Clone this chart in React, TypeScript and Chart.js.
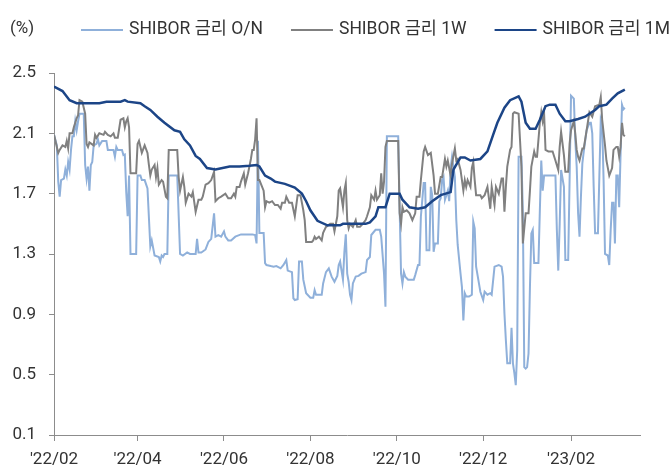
import React, { useEffect, useRef } from "react";
import { Chart, registerables } from "chart.js";

Chart.register(...registerables);

// ---- data ----
const seriesNames = ["SHIBOR 금리 O/N", "SHIBOR 금리 1W", "SHIBOR 금리 1M"];
const seriesColors = ["#8fb0da", "#808080", "#1c4587"];

// x values = days since 2022-02-01
const xTickDays = [0, 59, 120, 181, 242, 303, 365];
const xTickLabels = ["'22/02", "'22/04", "'22/06", "'22/08", "'22/10", "'22/12", "'23/02"];
const xMaxDay = 413.7;
const yTicks = [0.1, 0.5, 0.9, 1.3, 1.7, 2.1, 2.5];
const unitLabel = "(%)";

const onDays = [0,2,3,4,5,7,8,9,10,11,12,13,14,15,16,17,18,21,22,23,24,25,26,27,28,30,31,32,34,37,38,42,43,44,45,48,49,50,51,52,53,54,58,59,61,62,64,66,68,69,71,74,75,76,77,78,80,81,87,89,91,94,96,100,101,102,104,107,109,111,113,114,116,118,120,121,123,125,128,132,140,142,143,144,145,148,149,150,153,155,157,160,162,164,165,168,169,170,172,173,175,176,178,181,183,184,185,189,190,192,194,196,198,200,201,202,203,204,205,206,207,208,209,210,211,213,215,217,220,221,223,224,227,230,231,233,234,235,243,244,245,246,247,248,250,254,255,257,258,259,261,262,263,265,266,267,268,269,271,272,273,274,275,276,278,279,280,281,283,284,285,287,288,289,290,291,293,295,296,297,298,300,301,303,304,306,308,309,311,314,316,317,318,319,320,322,323,324,325,326,327,328,330,331,332,333,334,335,336,337,338,339,342,343,344,345,346,354,355,356,357,358,360,361,363,364,365,367,368,369,370,371,372,373,374,376,378,379,380,381,382,384,386,387,388,389,391,392,393,394,395,396,397,398,399,400,401,402,403];
const onVals = [2.09,2.02,1.78,1.68,1.79,1.80,1.86,1.82,1.91,1.86,1.99,2.08,2.08,2.18,2.12,2.18,2.23,2.23,1.89,1.80,1.88,1.72,1.89,1.91,2.02,2.03,2.06,2.02,2.05,2.05,1.99,1.99,1.945,2.01,1.99,1.99,1.956,1.96,1.71,1.55,1.82,1.30,1.30,1.82,1.82,1.79,1.79,1.735,1.35,1.39,1.29,1.28,1.25,1.29,1.28,1.30,1.30,1.82,1.82,1.30,1.29,1.31,1.30,1.30,1.40,1.31,1.31,1.33,1.38,1.40,1.57,1.415,1.425,1.415,1.45,1.415,1.39,1.39,1.415,1.43,1.43,1.425,1.37,2.05,1.44,1.44,1.24,1.227,1.22,1.216,1.22,1.205,1.227,1.26,1.19,1.18,1.006,0.995,1.00,1.25,1.25,1.13,1.04,1.01,1.01,1.06,1.03,1.03,1.105,1.18,1.205,1.15,1.116,1.155,1.227,1.25,1.19,1.13,1.315,1.43,1.17,1.116,1.03,0.995,1.105,1.15,1.155,1.17,1.18,1.26,1.28,1.426,1.46,1.46,1.415,1.17,0.95,2.08,2.08,1.61,1.17,1.105,1.18,1.15,1.13,1.13,1.16,1.227,1.227,1.547,1.77,1.77,1.325,1.325,1.745,1.69,1.315,1.37,1.37,1.65,1.67,1.79,1.81,1.66,1.72,1.65,1.87,1.945,1.81,1.525,1.36,1.17,1.08,0.86,1.04,1.018,1.018,1.03,1.514,1.47,1.216,1.105,1.05,0.995,1.05,1.03,1.04,1.03,1.216,1.227,1.216,1.15,0.906,0.73,0.575,0.575,0.81,0.575,0.51,0.43,0.66,1.945,1.945,1.57,0.55,0.54,0.55,0.64,1.08,1.437,1.46,1.24,1.24,1.59,1.92,1.72,1.82,1.82,1.46,1.19,1.50,1.857,1.745,1.26,1.26,1.79,2.35,2.33,2.056,1.88,1.57,1.415,1.68,1.90,1.98,2.12,2.17,2.17,2.10,1.745,1.437,1.437,2.19,2.155,1.79,1.30,1.29,1.227,1.46,1.64,1.64,1.37,1.82,1.82,1.61,1.97,2.29,2.26,2.27];

const wDays = [0,3,4,6,8,9,10,11,13,14,16,17,18,20,22,23,24,25,28,29,30,32,35,36,38,40,42,43,45,47,49,50,51,52,53,54,58,59,60,62,64,66,67,68,69,71,72,73,74,76,77,79,80,81,87,88,89,91,92,93,95,97,98,100,102,104,105,107,109,111,113,114,116,118,121,123,125,127,128,129,131,132,134,135,137,139,140,141,142,143,144,145,148,149,150,152,154,156,158,160,161,163,164,166,168,170,172,174,176,177,178,182,183,184,185,187,189,190,192,195,197,198,200,201,202,204,205,206,207,208,209,211,213,214,216,218,220,221,223,224,226,227,228,230,231,232,233,234,235,243,244,245,246,247,249,251,253,255,256,258,259,261,262,264,266,268,269,271,273,274,276,277,278,280,281,283,284,285,287,289,290,291,292,294,295,296,297,298,301,302,304,306,308,309,311,312,314,316,317,318,319,320,322,323,324,325,328,330,331,333,335,336,337,339,340,341,343,344,345,346,347,349,352,354,356,357,358,360,361,363,364,365,367,368,369,370,371,373,374,376,377,378,380,382,385,386,387,389,390,392,394,395,397,398,399,400,401,402,403];
const wVals = [2.09,1.97,1.99,2.02,2.01,2.05,2.00,2.10,2.10,2.14,2.20,2.22,2.32,2.31,2.23,2.03,2.01,2.04,2.02,2.09,2.07,2.10,2.09,2.11,2.09,2.08,2.10,2.07,2.07,2.19,2.20,2.14,2.18,2.20,2.14,1.835,1.835,2.03,2.05,1.97,2.02,1.97,1.89,1.82,1.86,1.89,1.81,1.87,1.76,1.79,1.78,1.68,1.67,1.99,1.99,1.81,1.72,1.81,1.745,1.64,1.70,1.68,1.71,1.58,1.66,1.66,1.68,1.76,1.77,1.79,1.845,1.65,1.67,1.68,1.70,1.67,1.67,1.70,1.68,1.745,1.745,1.78,1.835,1.76,1.835,1.93,1.99,1.99,2.06,2.20,1.79,1.79,1.72,1.61,1.65,1.64,1.65,1.625,1.625,1.60,1.64,1.64,1.68,1.64,1.64,1.55,1.69,1.69,1.59,1.525,1.38,1.38,1.39,1.415,1.40,1.415,1.39,1.44,1.48,1.50,1.50,1.45,1.55,1.72,1.735,1.61,1.72,1.77,1.525,1.47,1.50,1.48,1.525,1.48,1.48,1.50,1.525,1.55,1.61,1.69,1.66,1.72,1.66,1.69,1.835,1.70,1.78,2.01,2.05,2.05,1.57,1.50,1.61,1.58,1.59,1.57,1.525,1.57,1.68,1.68,1.79,1.98,2.01,1.956,1.97,1.82,1.70,1.70,1.81,1.81,1.93,1.88,1.92,1.82,1.90,2.00,1.92,1.93,1.857,1.72,1.79,1.745,1.79,1.745,1.87,1.91,1.79,1.69,1.69,1.67,1.69,1.745,1.60,1.745,1.625,1.745,1.70,1.80,1.80,1.58,1.745,1.88,1.99,2.01,2.23,2.24,2.23,1.88,1.37,1.57,1.57,1.72,1.88,1.98,1.945,1.945,2.17,2.24,2.18,2.23,1.99,1.98,1.98,1.92,1.857,2.01,2.11,1.956,1.846,1.846,2.03,2.12,2.18,2.10,1.99,1.945,1.92,2.00,2.00,2.12,2.18,2.24,2.21,2.28,2.29,2.34,2.19,2.02,1.92,1.82,1.87,1.99,2.01,2.01,1.945,2.01,2.17,2.09,2.08];

const mDays = [0,6,11,16,32,37,47,50,52,61,64,68,73,78,85,89,92,96,100,103,108,114,119,124,131,138,143,145,149,153,156,163,170,175,178,181,186,193,202,204,220,223,227,229,234,237,244,246,251,257,262,267,273,280,282,287,290,294,301,306,310,313,318,322,328,330,333,336,340,343,347,350,354,357,361,364,370,375,378,382,385,390,394,398,403];
const mVals = [2.41,2.38,2.32,2.30,2.30,2.31,2.31,2.32,2.31,2.30,2.28,2.255,2.21,2.17,2.12,2.11,2.06,2.02,1.95,1.93,1.87,1.86,1.87,1.88,1.88,1.885,1.89,1.88,1.82,1.80,1.78,1.765,1.74,1.70,1.65,1.59,1.52,1.49,1.49,1.50,1.50,1.51,1.55,1.61,1.61,1.70,1.70,1.66,1.61,1.60,1.61,1.65,1.69,1.71,1.86,1.94,1.94,1.92,1.93,1.98,2.09,2.17,2.27,2.32,2.345,2.31,2.17,2.13,2.13,2.19,2.28,2.29,2.29,2.23,2.18,2.18,2.195,2.21,2.23,2.255,2.28,2.29,2.33,2.365,2.39];

const FONT = "Roboto, 'Noto Sans CJK KR', sans-serif";
const TEXT = "#333333";
const AXIS = "#8c8c8c";

function toPoints(days: number[], vals: number[]) {
  return days.map((d, i) => ({ x: d, y: vals[i] }));
}

const overlayPlugin = {
  id: "overlay",
  afterDraw(chart: any) {
    const ctx = chart.ctx as CanvasRenderingContext2D;
    ctx.save();
    ctx.fillStyle = TEXT;
    ctx.textBaseline = "middle";
    ctx.textAlign = "left";
    ctx.font = `17px ${FONT}`;
    ctx.fillText(unitLabel, 10, 29);
    ctx.font = `17.5px ${FONT}`;
    let x = 81;
    const y = 30;
    chart.data.datasets.forEach((ds: any) => {
      ctx.strokeStyle = ds.borderColor;
      ctx.lineWidth = 2;
      ctx.beginPath();
      ctx.moveTo(x, y);
      ctx.lineTo(x + 42, y);
      ctx.stroke();
      x += 48;
      ctx.fillStyle = TEXT;
      ctx.fillText(ds.label, x, y);
      x += ctx.measureText(ds.label).width + 28;
    });
    ctx.restore();
  },
};

export default function App() {
  const ref = useRef<HTMLCanvasElement | null>(null);
  useEffect(() => {
    if (!ref.current) return;
    const series = [
      toPoints(onDays, onVals),
      toPoints(wDays, wVals),
      toPoints(mDays, mVals),
    ];
    const chart = new Chart(ref.current, {
      type: "line",
      data: {
        datasets: series.map((pts, i) => ({
          label: seriesNames[i],
          data: pts,
          borderColor: seriesColors[i],
          backgroundColor: seriesColors[i],
          borderWidth: i === 2 ? 2.5 : 2,
          pointRadius: 0,
          tension: 0,
          fill: false,
          order: 3 - i,
        })),
      },
      options: {
        responsive: false,
        animation: false,
        layout: { padding: { top: 73, right: 32, left: 0, bottom: 0 } },
        plugins: { legend: { display: false }, tooltip: { enabled: false } },
        scales: {
          x: {
            type: "linear",
            min: 0,
            max: xMaxDay,
            afterBuildTicks: (s: any) => {
              s.ticks = xTickDays.map((v) => ({ value: v }));
            },
            afterFit: (s: any) => {
              s.height = 33;
              s.paddingLeft = 0;
              s.paddingRight = 0;
            },
            ticks: {
              autoSkip: false,
              maxRotation: 0,
              padding: 9,
              color: TEXT,
              font: { family: FONT, size: 17 },
              callback: (v: any) => xTickLabels[xTickDays.indexOf(Number(v))] ?? "",
            },
            grid: { drawOnChartArea: false, drawTicks: true, tickLength: 6, color: AXIS, lineWidth: 1 },
            border: { display: true, color: AXIS, width: 1 },
          },
          y: {
            min: 0.1,
            max: 2.5,
            afterBuildTicks: (s: any) => {
              s.ticks = yTicks.map((v) => ({ value: v }));
            },
            afterFit: (s: any) => {
              s.width = 54;
              s.paddingTop = 0;
              s.paddingBottom = 0;
            },
            ticks: {
              padding: 13,
              color: TEXT,
              font: { family: FONT, size: 17 },
              callback: (v: any) => Number(v).toFixed(1),
            },
            grid: { drawOnChartArea: false, drawTicks: true, tickLength: 5, color: AXIS, lineWidth: 1 },
            border: { display: true, color: AXIS, width: 1 },
          },
        },
      },
      plugins: [overlayPlugin],
    });
    return () => chart.destroy();
  }, []);
  return (
    <div style={{ position: "absolute", left: 0, top: 0, width: 672, height: 468, background: "#fff" }}>
      <canvas ref={ref} width={672} height={468} style={{ display: "block" }} />
    </div>
  );
}
